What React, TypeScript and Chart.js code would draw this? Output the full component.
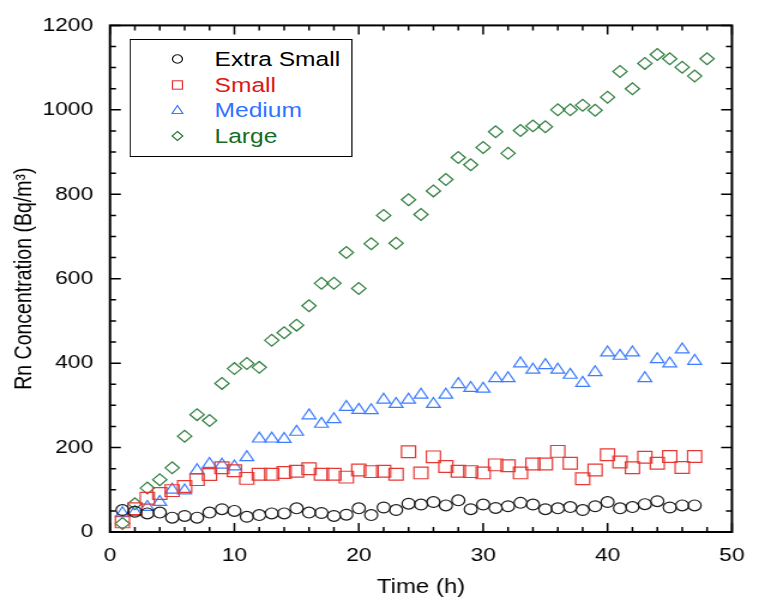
import { useEffect, useRef } from "react";
import { Chart, registerables } from "chart.js";

Chart.register(...registerables);

// ---------- data ----------
const hours = [
  1, 2, 3, 4, 5, 6, 7, 8, 9, 10, 11, 12, 13, 14, 15, 16, 17, 18, 19, 20, 21, 22, 23, 24,
  25, 26, 27, 28, 29, 30, 31, 32, 33, 34, 35, 36, 37, 38, 39, 40, 41, 42, 43, 44, 45, 46, 47,
];
const hoursLarge = [...hours, 48];

const extraSmall = [
  52, 48, 44, 46, 34, 38, 34, 46, 54, 50, 36, 40, 44, 44, 56, 46, 45, 38, 41, 56, 40, 58, 52, 67,
  65, 71, 63, 75, 54, 65, 57, 61, 69, 65, 54, 56, 59, 52, 61, 71, 56, 59, 66, 73, 58, 63, 63,
];
const small = [
  24, 55, 80, 91, 98, 108, 124, 136, 152, 145, 127, 137, 137, 141, 144, 150, 137, 137, 130, 147, 143,
  144, 137, 190, 140, 178, 155, 144, 143, 140, 159, 157, 140, 161, 161, 191, 163, 126, 147, 183, 166,
  152, 177, 163, 179, 153, 179,
];
const medium = [
  44, 47, 59, 71, 100, 98, 146, 161, 159, 155, 177, 221, 221, 220, 237, 276, 256, 267, 296, 289, 288,
  313, 303, 313, 325, 303, 325, 350, 341, 339, 364, 364, 399, 384, 395, 384, 372, 353, 378, 425, 417,
  425, 364, 409, 399, 432, 405,
];
const large = [
  20, 67, 104, 124, 152, 227, 278, 264, 352, 387, 399, 390, 454, 472, 490, 536, 589, 589, 662, 577,
  683, 750, 684, 787, 752, 808, 835, 887, 870, 911, 948, 897, 951, 962, 960, 1000, 1000, 1011, 999,
  1030, 1091, 1050, 1110, 1131, 1121, 1101, 1080, 1121,
];

const seriesNames = ["Extra Small", "Small", "Medium", "Large"];
const xTickValues = [0, 10, 20, 30, 40, 50];
const yTickValues = [0, 200, 400, 600, 800, 1000, 1200];
const xMinorStep = 2;
const yMinorStep = 50;

// ---------- styling ----------
const FONT = "'Liberation Sans', Arial, Helvetica, sans-serif";
const W_OUT = 759;
const H = 603;
const W_IN = 633;
const SX = W_OUT / W_IN;

const markerColors = ["#1a1a1a", "#e53935", "#3b7cff", "#2e7d3c"];
const textColors = ["#000000", "#e01818", "#2f74ff", "#1a6b26"];

const toPts = (xs: number[], ys: number[]) => xs.map((x, i) => ({ x, y: ys[i] }));

const frameTicks = {
  id: "frameTicks",
  beforeDatasetsDraw(chart: any) {
    const { ctx, chartArea: a, scales } = chart;
    const x = scales.x;
    const y = scales.y;
    ctx.save();
    ctx.strokeStyle = "#000";
    ctx.lineWidth = 2;
    ctx.strokeRect(a.left, a.top, a.right - a.left, a.bottom - a.top);
    ctx.lineWidth = 1.5;
    ctx.beginPath();
    for (let v = x.min; v <= x.max + 1e-9; v += xMinorStep) {
      const px = x.getPixelForValue(v);
      const len = xTickValues.includes(v) ? 9 : 5;
      ctx.moveTo(px, a.bottom);
      ctx.lineTo(px, a.bottom - len);
      ctx.moveTo(px, a.top);
      ctx.lineTo(px, a.top + len);
    }
    for (let v = y.min; v <= y.max + 1e-9; v += yMinorStep) {
      const py = y.getPixelForValue(v);
      const len = yTickValues.includes(v) ? 9 : 5;
      ctx.moveTo(a.left, py);
      ctx.lineTo(a.left + len, py);
      ctx.moveTo(a.right, py);
      ctx.lineTo(a.right - len, py);
    }
    ctx.stroke();
    ctx.restore();
  },
};

function LegendMarker({ i }: { i: number }) {
  const c = markerColors[i];
  let shape: any = null;
  if (i === 0) shape = <circle cx={6} cy={6} r={4.2} fill="none" stroke={c} strokeWidth={1.1} />;
  if (i === 1) shape = <rect x={1.8} y={1.8} width={8.4} height={8.4} fill="none" stroke={c} strokeWidth={1.1} />;
  if (i === 2) shape = <polygon points="6,1.5 10.5,9.5 1.5,9.5" fill="none" stroke={c} strokeWidth={1.1} />;
  if (i === 3) shape = <polygon points="6,1.5 10.5,6 6,10.5 1.5,6" fill="none" stroke={c} strokeWidth={1.1} />;
  return (
    <svg width={12} height={12} style={{ position: "absolute", left: 39 - 6, top: 0, display: "block" }}>
      {shape}
    </svg>
  );
}

export default function App() {
  const ref = useRef<HTMLCanvasElement | null>(null);

  useEffect(() => {
    if (!ref.current) return;
    const chart = new Chart(ref.current, {
      type: "scatter",
      data: {
        datasets: [
          {
            label: seriesNames[0],
            data: toPts(hours, extraSmall),
            pointStyle: "circle",
            pointRadius: 5.4,
            borderColor: markerColors[0],
            backgroundColor: "rgba(0,0,0,0)",
            pointBorderWidth: 1.2,
            clip: false,
          },
          {
            label: seriesNames[1],
            data: toPts(hours, small),
            pointStyle: "rect",
            pointRadius: 8.3,
            borderColor: markerColors[1],
            backgroundColor: "rgba(0,0,0,0)",
            pointBorderWidth: 1.2,
            clip: false,
          },
          {
            label: seriesNames[2],
            data: toPts(hours, medium),
            pointStyle: "triangle",
            pointRadius: 6.6,
            borderColor: markerColors[2],
            backgroundColor: "rgba(0,0,0,0)",
            pointBorderWidth: 1.2,
            clip: false,
          },
          {
            label: seriesNames[3],
            data: toPts(hoursLarge, large),
            pointStyle: "rectRot",
            pointRadius: 5.9,
            borderColor: markerColors[3],
            backgroundColor: "rgba(0,0,0,0)",
            pointBorderWidth: 1.2,
            clip: false,
          },
        ] as any,
      },
      options: {
        responsive: false,
        animation: false,
        events: [],
        layout: { padding: { left: 0, right: W_IN - 742 / SX, top: 20, bottom: 0 } },
        plugins: { legend: { display: false }, tooltip: { enabled: false } },
        scales: {
          x: {
            type: "linear",
            min: 0,
            max: 50,
            afterBuildTicks: (s: any) => {
              s.ticks = xTickValues.map((v) => ({ value: v }));
            },
            afterFit: (s: any) => {
              s.height = H - 532;
            },
            grid: { display: false, drawTicks: false },
            border: { display: false },
            ticks: {
              color: "#000",
              font: { family: FONT, size: 19 },
              padding: 12,
              maxRotation: 0,
              autoSkip: false,
              callback: (v: any) => String(v),
            },
            title: {
              display: true,
              text: "Time (h)",
              color: "#000",
              font: { family: FONT, size: 20 },
              padding: { top: 0, bottom: 4 },
            },
          },
          y: {
            type: "linear",
            min: 0,
            max: 1200,
            afterBuildTicks: (s: any) => {
              s.ticks = yTickValues.map((v) => ({ value: v }));
            },
            afterFit: (s: any) => {
              s.width = 110 / SX;
            },
            grid: { display: false, drawTicks: false },
            border: { display: false },
            ticks: {
              color: "#000",
              font: { family: FONT, size: 19 },
              padding: 14,
              autoSkip: false,
              callback: (v: any) => String(v),
            },
            title: {
              display: true,
              text: "Rn Concentration (Bq/m³)",
              color: "#000",
              font: { family: FONT, size: 19.5 },
              padding: { top: 9, bottom: 0 },
            },
          },
        },
      } as any,
      plugins: [frameTicks],
    });
    return () => chart.destroy();
  }, []);

  const rowCenters = [20.5, 46.3, 72, 98];

  return (
    <div
      style={{
        position: "fixed",
        left: 0,
        top: 0,
        width: W_IN,
        height: H,
        transform: `scaleX(${SX})`,
        transformOrigin: "0 0",
        background: "#fff",
      }}
    >
      <canvas ref={ref} width={W_IN} height={H} style={{ display: "block", width: W_IN, height: H }} />
      <div
        style={{
          position: "absolute",
          left: 130 / SX,
          top: 39,
          width: (352 - 130) / SX,
          height: 118,
          boxSizing: "border-box",
          border: "1.7px solid #000",
          background: "#fff",
          fontFamily: FONT,
          fontSize: 20.5,
        }}
      >
        {seriesNames.map((name, i) => (
          <div
            key={name}
            style={{
              position: "absolute",
              left: 0,
              top: rowCenters[i] - 6 - 1.7,
              height: 12,
              width: "100%",
            }}
          >
            <LegendMarker i={i} />
            <span
              style={{
                position: "absolute",
                left: 69.5,
                top: 6 - 12,
                lineHeight: "24px",
                whiteSpace: "nowrap",
                color: textColors[i],
              }}
            >
              {name}
            </span>
          </div>
        ))}
      </div>
    </div>
  );
}
